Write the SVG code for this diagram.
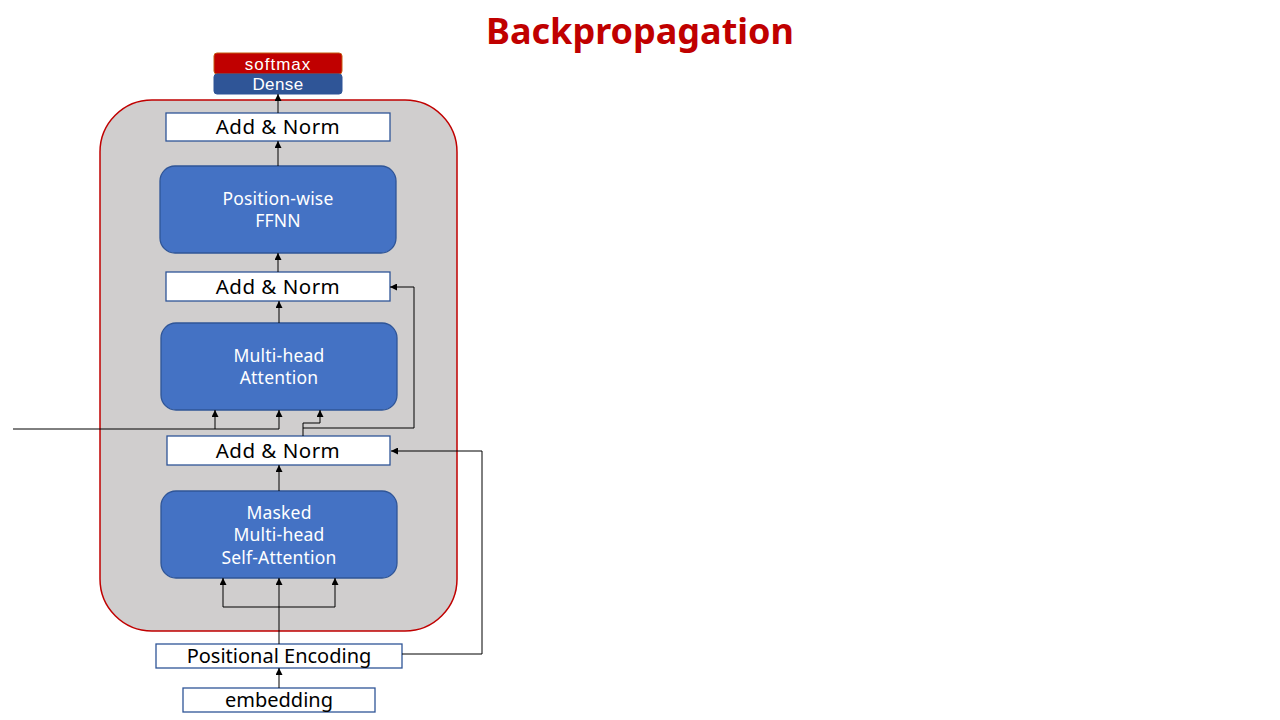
<svg xmlns="http://www.w3.org/2000/svg" width="1280" height="720" viewBox="0 0 1280 720">
<style>
.t{font-family:"Noto Sans","Open Sans",sans-serif;text-anchor:middle}
.s{font-family:"Liberation Sans",Arial,sans-serif;text-anchor:middle;font-size:17px;fill:#fff}
.an{fill:#fff;stroke:#2F5597;stroke-width:1.3}
.blk{fill:#4472C4;stroke:#2F5597;stroke-width:1.3}
.bt{font-size:17.5px;fill:#fff;letter-spacing:0.2px}
.at{font-size:20.5px;fill:#000;letter-spacing:0.5px}
.pt{font-size:20px;fill:#000}
.ln{fill:none;stroke:#000;stroke-width:1}
</style>
<defs>
<marker id="ah" viewBox="0 0 10 10" refX="10" refY="5" markerWidth="7" markerHeight="7" orient="auto" markerUnits="userSpaceOnUse">
<path d="M0,0 L10,5 L0,10 z" fill="#000"/>
</marker>
</defs>
<rect width="1280" height="720" fill="#fff"/>
<text class="t" x="640" y="44" font-size="36" font-weight="bold" fill="#C00000">Backpropagation</text>
<g id="decoder">
<rect x="100" y="100" width="357" height="531" rx="52" fill="#D0CECE" stroke="#C00000" stroke-width="1.5"/>
</g>
<g id="softmax">
<rect x="214" y="53" width="128" height="21" rx="3" fill="#C00000" stroke="#C55A11" stroke-width="1"/>
<text class="s" x="278" y="70" letter-spacing="1">softmax</text>
</g>
<g id="dense">
<rect x="214" y="74" width="128" height="20" rx="3" fill="#2F5597" stroke="#2F5597" stroke-width="1"/>
<text class="s" x="278" y="90" letter-spacing="0.4">Dense</text>
</g>
<g id="addnorm3">
<rect class="an" x="166" y="113" width="224" height="28"/>
<text class="t at" x="278" y="134">Add &amp; Norm</text>
</g>
<g id="ffnn">
<rect class="blk" x="160" y="166" width="236" height="87" rx="15"/>
<text class="t bt" x="278" y="205">Position-wise</text>
<text class="t bt" x="278" y="227">FFNN</text>
</g>
<g id="addnorm2">
<rect class="an" x="166" y="272" width="224" height="29"/>
<text class="t at" x="278" y="294">Add &amp; Norm</text>
</g>
<g id="mha">
<rect class="blk" x="161" y="323" width="236" height="87" rx="15"/>
<text class="t bt" x="279" y="362">Multi-head</text>
<text class="t bt" x="279" y="384">Attention</text>
</g>
<g id="addnorm1">
<rect class="an" x="167" y="436" width="223" height="29"/>
<text class="t at" x="278" y="458">Add &amp; Norm</text>
</g>
<g id="masked">
<rect class="blk" x="161" y="491" width="236" height="87" rx="15"/>
<text class="t bt" x="279" y="519">Masked</text>
<text class="t bt" x="279" y="541">Multi-head</text>
<text class="t bt" x="279" y="564">Self-Attention</text>
</g>
<g id="posenc">
<rect class="an" x="156" y="644" width="246" height="24"/>
<text class="t pt" x="279" y="663">Positional Encoding</text>
</g>
<g id="embedding">
<rect class="an" x="183" y="688" width="192" height="24"/>
<text class="t pt" x="279" y="707">embedding</text>
</g>
<g id="connectors">
<line class="ln" x1="279" y1="688" x2="279" y2="668" marker-end="url(#ah)"/>
<line class="ln" x1="279" y1="644" x2="279" y2="578" marker-end="url(#ah)"/>
<polyline class="ln" points="279,607 223,607 223,578" marker-end="url(#ah)"/>
<polyline class="ln" points="279,607 335,607 335,578" marker-end="url(#ah)"/>
<polyline class="ln" points="402,654 482,654 482,451 391,451" marker-end="url(#ah)"/>
<line class="ln" x1="279" y1="491" x2="279" y2="465" marker-end="url(#ah)"/>
<polyline class="ln" points="13,429 279,429 279,410" marker-end="url(#ah)"/>
<line class="ln" x1="215" y1="429" x2="215" y2="410" marker-end="url(#ah)"/>
<polyline class="ln" points="303,436 303,423 320,423 320,410" marker-end="url(#ah)"/>
<polyline class="ln" points="303,428 414,428 414,287 390,287" marker-end="url(#ah)"/>
<line class="ln" x1="279" y1="323" x2="279" y2="301" marker-end="url(#ah)"/>
<line class="ln" x1="278" y1="272" x2="278" y2="253" marker-end="url(#ah)"/>
<line class="ln" x1="278" y1="166" x2="278" y2="141" marker-end="url(#ah)"/>
<line class="ln" x1="278" y1="113" x2="278" y2="94" marker-end="url(#ah)"/>
</g>
</svg>
